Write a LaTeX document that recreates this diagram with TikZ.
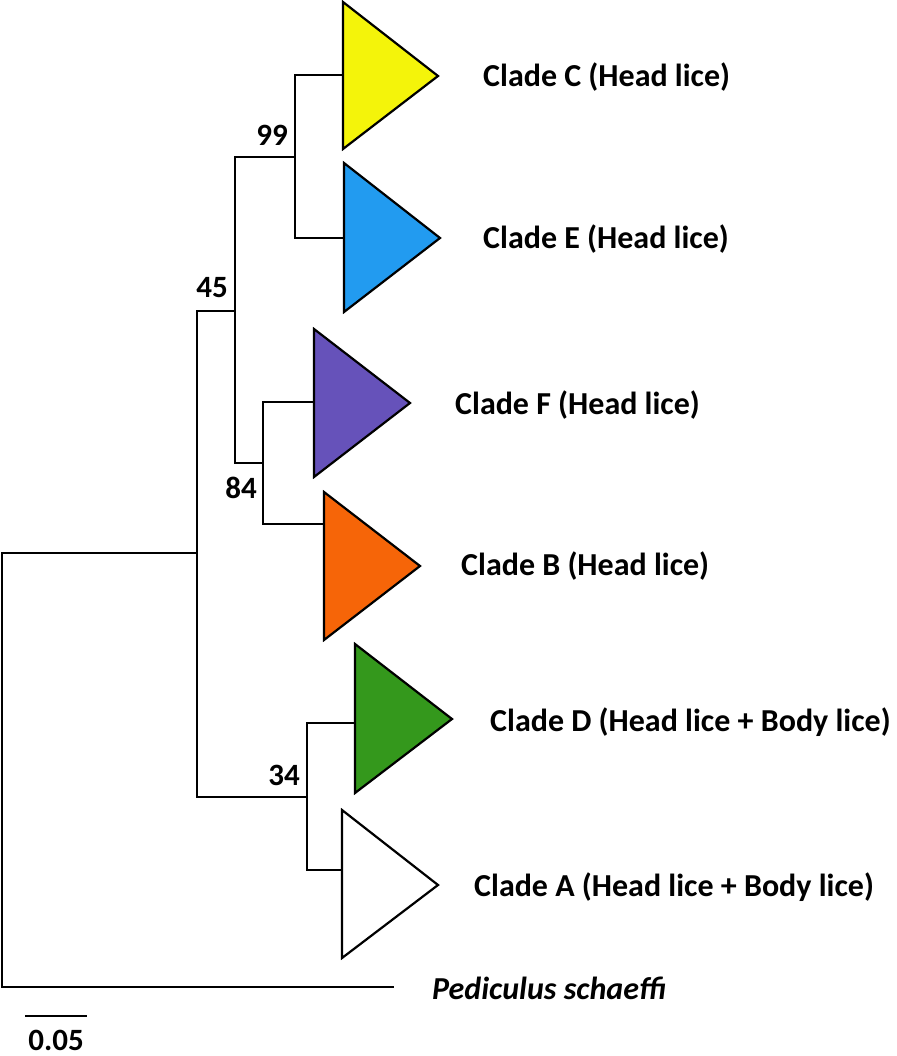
\documentclass[tikz,border=0pt]{standalone}
\usepackage{fontspec}
\setmainfont{Carlito}
\definecolor{cyel}{RGB}{244,244,10}
\definecolor{cblu}{RGB}{34,155,240}
\definecolor{cpur}{RGB}{102,82,186}
\definecolor{cora}{RGB}{246,101,8}
\definecolor{cgre}{RGB}{52,152,28}
\begin{document}
\begin{tikzpicture}[x=1pt,y=-1pt,
  br/.style={line width=2.2pt,line cap=rect},
  tri/.style={line width=2.2pt,draw=black,line join=miter},
  lab/.style={anchor=west,inner sep=0pt,font=\fontsize{32}{32}\selectfont\bfseries},
  boot/.style={inner sep=0pt,font=\fontsize{31}{31}\selectfont\bfseries}]
\useasboundingbox (0,0) rectangle (896,1056);
% internal nodes
\coordinate (root) at (2,553);
\coordinate (n45) at (197,553);
\coordinate (n45t) at (197,311);
\coordinate (n45b) at (197,797);
\coordinate (n99) at (235,311);
\coordinate (n99t) at (235,157);
\coordinate (n99b) at (235,463);
\coordinate (nCE) at (295,157);
\coordinate (nCEt) at (295,75);
\coordinate (nCEb) at (295,238);
\coordinate (n84) at (263,463);
\coordinate (n84t) at (263,402);
\coordinate (n84b) at (263,524);
\coordinate (n34) at (307,797);
\coordinate (n34t) at (307,723);
\coordinate (n34b) at (307,870);
\coordinate (rootb) at (2,987);
% triangle attachment points
\coordinate (tC) at (343,75);
\coordinate (tE) at (344,238);
\coordinate (tF) at (314,402);
\coordinate (tB) at (324,524);
\coordinate (tD) at (355,723);
\coordinate (tA) at (342,870);
\coordinate (out) at (393,987);
% triangles
\filldraw[tri,fill=cyel] (343,2) -- (438,76) -- (343,149) -- cycle;
\filldraw[tri,fill=cblu] (344,163) -- (440,238) -- (344,312) -- cycle;
\filldraw[tri,fill=cpur] (314,329) -- (410,403) -- (314,477) -- cycle;
\filldraw[tri,fill=cora] (324,492) -- (420,566) -- (324,640) -- cycle;
\filldraw[tri,fill=cgre] (355,644) -- (452,719) -- (355,793) -- cycle;
\filldraw[tri,fill=white] (342,810) -- (438,885) -- (342,958) -- cycle;
% branches
\draw[br] (n45) -- (root) -- (rootb) -- (out);
\draw[br] (n99) -- (n45t) -- (n45b) -- (n34);
\draw[br] (nCE) -- (n99t) -- (n99b) -- (n84);
\draw[br] (tC) -- (nCEt) -- (nCEb) -- (tE);
\draw[br] (tF) -- (n84t) -- (n84b) -- (tB);
\draw[br] (tD) -- (n34t) -- (n34b) -- (tA);
% bootstrap labels
\node[boot] (b99) at (272,135) {99};
\node[boot] (b45) at (212,288) {45};
\node[boot] (b84) at (241,488) {84};
\node[boot] (b34) at (284,775) {34};
% clade labels
\node[lab] (lC) at (483,77) {Clade C (Head lice)};
\node[lab] (lE) at (483,239) {Clade E (Head lice)};
\node[lab] (lF) at (455,405) {Clade F (Head lice)};
\node[lab] (lB) at (461,566) {Clade B (Head lice)};
\node[lab] (lD) at (490,722) {Clade D (Head lice + Body lice)};
\node[lab] (lA) at (474,887) {Clade A (Head lice + Body lice)};
\node[lab,font=\fontsize{32}{32}\selectfont\bfseries\itshape] (lP) at (432,988) {Pediculus schaeffi};
% scale bar
\coordinate (s1) at (25,1016);
\coordinate (s2) at (87,1016);
\draw[br,line cap=butt] (s1) -- (s2);
\node[boot,anchor=base] (sc) at (56,1050) {0.05};
\end{tikzpicture}
\end{document}
